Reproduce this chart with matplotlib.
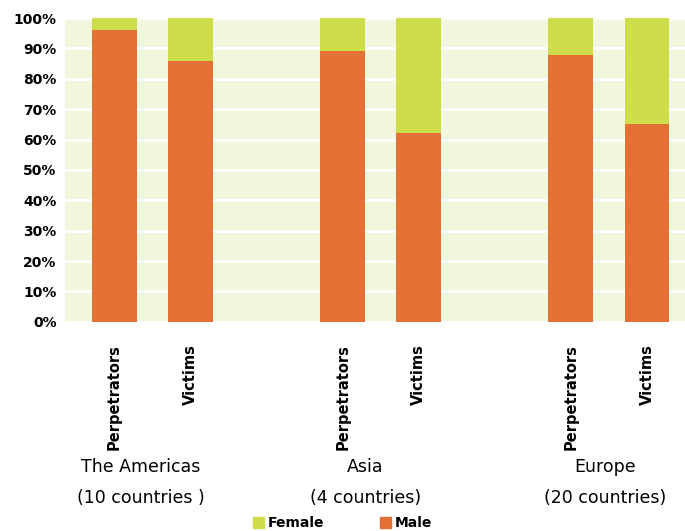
import matplotlib.pyplot as plt
from matplotlib.patches import Patch

plt.rcParams['font.family'] = ['Liberation Sans Narrow', 'DejaVu Sans']

regions = ['The Americas\n(10 countries )', 'Asia\n(4 countries)', 'Europe\n(20 countries)']
bar_labels = ['Perpetrators', 'Victims'] * 3
male = [0.96, 0.86, 0.89, 0.62, 0.88, 0.65]
female = [1 - m for m in male]
positions = [0, 1, 3, 4, 6, 7]
region_x = [0.35, 3.3, 6.45]

male_color = '#e37136'
female_color = '#cedd4a'

fig = plt.figure(figsize=(6.85, 5.31), dpi=100)
ax = fig.add_axes([0.095, 0.394, 0.905, 0.572])
ax.set_facecolor('#f2f6dc')

ax.bar(positions, male, width=0.59, color=male_color, zorder=3)
ax.bar(positions, female, width=0.59, bottom=male, color=female_color, zorder=3)

ax.set_ylim(0, 1)
ax.set_xlim(-0.65, 7.5)
ax.set_yticks([i / 10 for i in range(11)])
ax.set_yticklabels([f'{i * 10}%' for i in range(11)], fontsize=10, fontweight='bold')
ax.set_xticks(positions)
ax.set_xticklabels(bar_labels, rotation=90, fontsize=10.5, fontweight='bold', va='top')
ax.tick_params(axis='y', length=0, pad=6)
ax.tick_params(axis='x', length=0, pad=16)
ax.grid(axis='y', color='white', linewidth=2, zorder=1)
for s in ax.spines.values():
    s.set_visible(False)

for x, name in zip(region_x, regions):
    ax.text(x, -0.45, name, ha='center', va='top', fontsize=12.5,
            linespacing=1.9, transform=ax.get_xaxis_transform())

handles = [Patch(color=female_color, label='Female'), Patch(color=male_color, label='Male')]
fig.legend(handles=handles, loc='lower center', bbox_to_anchor=(0.5, -0.022), ncol=2,
           frameon=False, prop={'weight': 'bold', 'size': 10},
           handlelength=0.8, handleheight=0.8, columnspacing=4, handletextpad=0.3)

fig.savefig('out.png')
